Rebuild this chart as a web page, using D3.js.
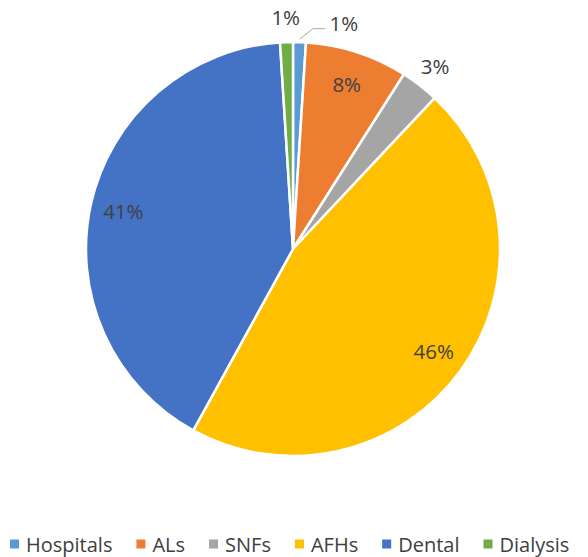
<!DOCTYPE html>
<html>
<head>
<meta charset="utf-8">
<script src="https://cdn.jsdelivr.net/npm/d3@7"></script>
<style>
  body { margin: 0; background: #fff; }
  text { font-family: "Open Sans", "Noto Sans", sans-serif; fill: #404040; }
</style>
</head>
<body>
<svg id="chart" width="588" height="557"></svg>
<script>
// data
var categories = ["Hospitals", "ALs", "SNFs", "AFHs", "Dental", "Dialysis"];
var values = [1, 8, 3, 46, 41, 1];
var colors = ["#5B9BD5", "#ED7D31", "#A5A5A5", "#FFC000", "#4472C4", "#70AD47"];

var svg = d3.select("#chart");
var cx = 293, cy = 249, R = 207;

var pie = d3.pie().sort(null).value(function(d) { return d; });
var arcs = pie(values);
var arc = d3.arc().innerRadius(0).outerRadius(R);
var color = d3.scaleOrdinal().domain(categories).range(colors);

var g = svg.append("g").attr("transform", "translate(" + cx + "," + cy + ")");

g.selectAll("path.slice")
  .data(arcs)
  .enter().append("path")
  .attr("class", "slice")
  .attr("d", arc)
  .attr("fill", function(d, i) { return color(categories[i]); })
  .attr("stroke", "#fff")
  .attr("stroke-width", 2.5);

// labels: big slices inside, small ones outside
function mid(d) { return (d.startAngle + d.endAngle) / 2; }
function pt(a, r) { return [Math.sin(a) * r, -Math.cos(a) * r]; }
var total = d3.sum(values);

arcs.forEach(function(d, i) {
  var pct = Math.round(d.data / total * 100) + "%";
  var a = mid(d), r;
  if (d.data >= 5) r = R * 0.84;
  else r = 232;
  if (i === 0) a += 0.19;   // hospital label nudged right, with leader line
  var p = pt(a, r);
  g.append("text")
    .attr("x", p[0]).attr("y", p[1])
    .attr("text-anchor", "middle")
    .attr("dominant-baseline", "central")
    .style("font-size", "20.5px")
    .text(pct);
  if (i === 0) {
    var p0 = pt(mid(d), R + 3);
    var p1 = [p[0] - 31, p[1] + 6];
    g.append("polyline")
      .attr("points", [p0, p1, [p[0] - 19, p1[1]]].map(function(q) { return q.join(","); }).join(" "))
      .attr("fill", "none")
      .attr("stroke", "#A6A6A6")
      .attr("stroke-width", 1);
  }
});

// legend
var legend = svg.append("g").attr("transform", "translate(0,544)");
var x = 10;
categories.forEach(function(c, i) {
  var item = legend.append("g").attr("transform", "translate(" + x + ",0)");
  item.append("rect").attr("x", 0).attr("y", -4.5).attr("width", 9).attr("height", 9).attr("fill", color(c));
  var t = item.append("text").attr("x", 16).attr("y", 0)
    .attr("dominant-baseline", "central")
    .style("font-size", "20px")
    .text(c);
  x += 16 + t.node().getComputedTextLength() + 24;
});
</script>
</body>
</html>
